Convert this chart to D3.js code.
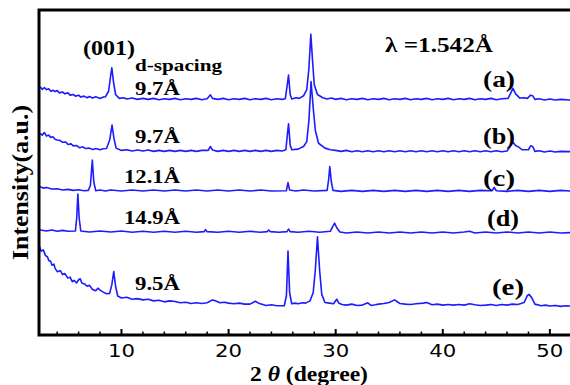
<!DOCTYPE html>
<html>
<head>
<meta charset="utf-8">
<script src="https://cdn.jsdelivr.net/npm/d3@7"></script>
<style>
  body { margin: 0; background: #fff; }
  svg { display: block; }
  .lbl { font-family: "Liberation Serif", "Times New Roman", serif; font-weight: bold; fill: #000; }
  .tick-lbl { font-family: "DejaVu Sans", sans-serif; font-size: 17px; fill: #000; }
</style>
</head>
<body>
<div id="chart"></div>
<script>
// x ticks (2 theta, degree)
const majorTicks = [10, 20, 30, 40, 50];
const minorTicks = [4, 6, 8, 12, 14, 16, 18, 22, 24, 26, 28, 32, 34, 36, 38, 42, 44, 46, 48, 52];

// XRD patterns: [2theta, intensity (a.u., offset stacked)]
const traceA = [[2.4,76.4],[2.6,75.6],[2.8,76.1],[3.0,75.5],[3.2,75.8],[3.4,75.0],[3.6,75.3],[3.8,74.9],[4.0,75.2],[4.2,74.5],[4.5,74.8],[4.7,74.2],[5.0,74.5],[5.2,73.8],[5.5,74.0],[5.7,73.5],[6.0,73.8],[6.2,73.2],[6.5,73.5],[6.8,73.0],[7.0,73.4],[7.3,72.9],[7.6,73.3],[8.0,72.8],[8.3,73.2],[8.5,73.3],[8.8,75],[9.0,80],[9.1,82.2],[9.25,78],[9.45,74],[9.8,72.8],[10.2,73.0],[10.5,72.6],[11.0,72.9],[11.5,72.5],[12,72.8],[12.5,72.5],[13,72.8],[13.5,72.4],[14,72.7],[14.5,72.5],[15,72.8],[15.5,72.4],[16,72.7],[16.5,72.5],[17,72.8],[17.5,72.4],[18.0,72.7],[18.3,73.9],[18.5,72.8],[19,72.5],[19.5,72.8],[20,72.4],[20.5,72.7],[21,72.5],[21.5,72.8],[22,72.4],[22.5,72.7],[23,72.5],[23.5,72.8],[24,72.4],[24.5,72.7],[25,72.5],[25.3,72.7],[25.48,77],[25.6,80],[25.75,74],[25.9,72.6],[26.3,73.0],[26.6,72.8],[27.0,73.6],[27.3,75.5],[27.5,82],[27.68,92.5],[27.85,84],[28.0,77],[28.3,74],[28.8,73],[29.2,72.6],[29.6,72.9],[30,72.5],[30.5,72.8],[31,72.4],[31.5,72.7],[32,72.5],[32.5,72.8],[33,72.4],[33.5,72.7],[34,72.5],[34.5,72.8],[35,72.4],[35.5,72.7],[36,72.5],[36.5,72.8],[37,72.4],[37.5,72.7],[38,72.5],[38.5,72.8],[39,72.4],[39.5,72.7],[40,72.5],[40.5,72.8],[41,72.4],[41.5,72.7],[42,72.5],[42.5,72.8],[43,72.4],[43.5,72.7],[44,72.5],[44.5,72.8],[45,72.4],[45.5,72.7],[46.1,72.8],[46.35,74.5],[46.55,75.9],[46.8,74.2],[47.2,72.9],[47.6,73.0],[47.9,72.8],[48.2,73.8],[48.4,73.6],[48.6,72.5],[49,72.7],[49.5,72.3],[50,72.6],[50.5,72.3],[51,72.5],[52,72.3]];

const traceB = [[2.4,62],[2.6,61.5],[2.8,62.3],[3.0,61.2],[3.2,61.5],[3.4,60.8],[3.6,61.0],[3.8,60.2],[4.0,60.0],[4.3,59.8],[4.5,59.3],[4.8,59.4],[5.0,58.6],[5.3,58.8],[5.5,58.2],[5.8,58.3],[6.1,57.6],[6.4,57.9],[6.6,57.4],[7.0,57.5],[7.3,57.1],[7.6,57.4],[8.0,57.0],[8.3,57.3],[8.6,57.4],[8.9,60],[9.12,64.6],[9.3,60.5],[9.5,57.5],[10,56.8],[10.5,57.0],[11,56.6],[11.5,56.9],[12,56.6],[12.5,56.9],[13,56.5],[13.5,56.8],[14,56.5],[14.5,56.8],[15,56.5],[15.5,56.8],[16,56.5],[16.5,56.8],[17,56.5],[17.5,56.8],[18.1,56.8],[18.3,58],[18.5,56.9],[19,56.5],[19.5,56.8],[20,56.5],[20.5,56.8],[21,56.5],[21.5,56.8],[22,56.5],[22.5,56.8],[23,56.5],[23.5,56.8],[24,56.5],[24.5,56.8],[25,56.6],[25.35,57],[25.5,62],[25.6,65],[25.75,58.5],[25.9,57],[26.5,57.2],[27.0,58],[27.3,59.5],[27.5,66],[27.7,78],[27.9,70],[28.1,63],[28.4,59],[29,57.5],[29.5,57.0],[30,56.8],[30.5,56.5],[31,56.8],[31.5,56.4],[32,56.7],[32.5,56.4],[33,56.7],[33.5,56.4],[34,56.7],[34.5,56.4],[35,56.7],[35.5,56.4],[36,56.7],[36.5,56.4],[37,56.7],[37.5,56.4],[38,56.7],[38.5,56.4],[39,56.7],[39.5,56.4],[40,56.7],[40.5,56.4],[41,56.7],[41.5,56.4],[42,56.7],[42.5,56.4],[43,56.7],[43.5,56.4],[44,56.7],[44.5,56.4],[45,56.7],[45.5,56.4],[46.0,56.6],[46.3,58],[46.5,59.5],[46.8,58.3],[47.1,57.8],[47.4,57],[48.0,57],[48.2,58.2],[48.4,58],[48.6,56.5],[49,56.7],[49.5,56.3],[50,56.6],[50.5,56.3],[51,56.5],[52,56.4]];

const traceC = [[2.4,45.6],[2.7,45.2],[3,45.4],[3.5,44.9],[4,45.0],[4.5,44.6],[5,44.8],[5.5,44.5],[6,44.7],[6.5,44.4],[6.9,44.5],[7.1,46],[7.28,53.8],[7.42,47],[7.6,44.4],[8,44.6],[8.5,44.3],[9,44.6],[10,44.3],[11,44.6],[12,44.3],[13,44.6],[14,44.3],[15,44.6],[16,44.3],[17,44.6],[18,44.3],[19,44.6],[20,44.3],[21,44.6],[22,44.3],[23,44.6],[24,44.3],[25.4,44.4],[25.55,46.9],[25.7,44.6],[26.3,44.3],[27,44.6],[28,44.3],[29.2,44.5],[29.35,48],[29.45,51.8],[29.6,47],[29.75,44.5],[30.5,44.2],[31.5,44.5],[32.5,44.2],[33.5,44.5],[34.5,44.2],[35.5,44.5],[36.5,44.2],[37.5,44.5],[38.5,44.2],[39.5,44.5],[40.5,44.2],[41.5,44.5],[42.5,44.2],[43.5,44.5],[44.6,44.4],[44.8,45.4],[45.0,44.4],[46,44.2],[47,44.5],[48,44.2],[49,44.5],[50,44.2],[51,44.5],[52,44.3]];

const traceD = [[2.4,32.3],[3,32.0],[3.5,32.3],[4,31.9],[4.5,32.2],[5,31.9],[5.7,32],[5.82,36],[5.93,43.4],[6.05,36],[6.2,32],[7,31.7],[8,32.0],[9,31.7],[10,32.0],[11,31.6],[12,31.9],[13,31.6],[14,31.9],[15,31.6],[16,31.9],[17,31.6],[17.7,31.8],[17.85,32.4],[18.0,31.8],[19,31.6],[20,31.9],[21,31.6],[22,31.9],[23,31.6],[23.6,31.8],[23.75,32.3],[23.9,31.8],[24.7,31.6],[25.45,31.8],[25.6,32.6],[25.75,31.8],[26.5,31.6],[27.5,31.9],[28.5,31.6],[29.5,31.9],[29.75,33.5],[29.9,34.4],[30.1,33],[30.4,31.7],[31,31.4],[32,31.7],[33,31.4],[34,31.7],[35,31.4],[36,31.7],[37,31.4],[38,31.7],[39,31.4],[40,31.7],[41,31.4],[42,31.7],[42.5,31.9],[43,31.4],[44,31.7],[45,31.4],[46,31.7],[47,31.4],[48,31.7],[49,31.4],[50,31.7],[51,31.4],[52,31.5]];

const traceE = [[2.35,27.2],[2.5,25.8],[2.7,26.2],[2.9,24.5],[3.1,24.0],[3.2,23],[3.4,22.6],[3.5,21.5],[3.7,21.8],[3.8,20.5],[4.0,19.5],[4.3,19.8],[4.5,18.6],[4.7,18.9],[5.0,17.5],[5.2,17.8],[5.4,16.4],[5.6,16.8],[5.8,16],[6.0,17],[6.15,17.3],[6.3,16],[6.6,15.6],[6.8,15],[7.0,15.3],[7.3,14],[7.6,13.6],[7.8,14.4],[8.0,13.8],[8.3,13.2],[8.6,12.7],[8.9,12.8],[9.1,15.5],[9.28,19.5],[9.45,15],[9.65,12],[10,11.4],[10.5,11.6],[11,11],[11.5,11.2],[12,10.8],[12.5,11.0],[13,10.5],[13.5,10.7],[14,10.2],[14.5,10.5],[15,10.3],[15.5,9.9],[16,10.1],[16.5,9.7],[17,9.9],[17.5,9.7],[18,9.9],[18.5,10.8],[18.7,10.6],[19.2,9.9],[19.6,10.1],[20,9.8],[20.5,9.6],[21,9.8],[21.5,9.5],[22,9.5],[22.5,10.4],[22.8,9.8],[23.2,9.4],[23.5,9.1],[24,9.3],[24.5,9.0],[25.2,9.0],[25.4,12],[25.55,25.8],[25.7,13],[25.9,9.6],[26.2,9.8],[26.5,9.6],[26.9,9.9],[27.2,9.8],[27.6,10.5],[27.9,13],[28.1,20],[28.3,30.2],[28.5,20],[28.7,12.5],[29,10],[29.4,9.8],[29.8,9.6],[30.1,11],[30.3,9.8],[30.6,9.4],[31,9.2],[31.5,9.5],[32,9.1],[32.5,9.2],[33.0,9.9],[33.3,9.1],[33.7,9.3],[34,9.5],[34.5,9.7],[35.0,10.0],[35.5,10.8],[36,9.7],[36.5,9.5],[37,9.4],[37.5,9.6],[38.2,9.8],[38.5,10.0],[39,9.3],[39.5,9.5],[40,9.2],[40.5,9.4],[41,9.2],[41.5,9.4],[42,9.2],[42.5,9.6],[43,9.3],[43.5,9.1],[44,9.2],[44.5,9.4],[45,9.1],[45.5,9.4],[46,9.2],[46.5,9.5],[47.0,9.4],[47.6,10],[47.9,12.2],[48.05,12.5],[48.3,11.5],[48.6,9.5],[49.2,9.0],[49.6,9.2],[50,8.9],[50.5,9.1],[51,8.8],[51.5,9.0],[52,8.9]];

const traces = [traceA, traceB, traceC, traceD, traceE];
const traceNames = ['(a)', '(b)', '(c)', '(d)', '(e)'];
const dSpacings = ['9.7Å', '9.7Å', '12.1Å', '14.9Å', '9.5Å'];

const width = 570, height = 385;
const x = d3.scaleLinear().domain([2.3, 52]).range([39, 571.3]);
const y = d3.scaleLinear().domain([0, 100]).range([335, 10]);

const svg = d3.select('#chart').append('svg')
  .attr('width', width)
  .attr('height', height);

// curves
const line = d3.line().x(d => x(d[0])).y(d => y(d[1]));
svg.append('g')
  .selectAll('path')
  .data(traces)
  .enter()
  .append('path')
  .attr('d', line)
  .attr('fill', 'none')
  .attr('stroke', '#1c1cff')
  .attr('stroke-width', 1.6)
  .attr('stroke-linejoin', 'round');

// frame: left, top, bottom
svg.append('path')
  .attr('d', `M${width + 2},10 H39 V335 H${width + 2}`)
  .attr('fill', 'none')
  .attr('stroke', '#000')
  .attr('stroke-width', 3);

// inward ticks on bottom axis
svg.append('g').selectAll('line.major')
  .data(majorTicks).enter().append('line')
  .attr('x1', d => x(d)).attr('x2', d => x(d))
  .attr('y1', 335).attr('y2', 329)
  .attr('stroke', '#000').attr('stroke-width', 2);
svg.append('g').selectAll('line.minor')
  .data(minorTicks).enter().append('line')
  .attr('x1', d => x(d)).attr('x2', d => x(d))
  .attr('y1', 335).attr('y2', 331.5)
  .attr('stroke', '#000').attr('stroke-width', 1.5);

svg.append('g').selectAll('text')
  .data(majorTicks).enter().append('text')
  .attr('class', 'tick-lbl')
  .attr('x', d => x(d) - 13.5)
  .attr('y', 357)
  .attr('textLength', 27)
  .attr('lengthAdjust', 'spacingAndGlyphs')
  .text(d => d);

// axis titles
svg.append('text')
  .attr('class', 'lbl')
  .attr('transform', 'translate(28,182.5) rotate(-90)')
  .attr('text-anchor', 'middle')
  .attr('font-size', 24)
  .attr('textLength', 155)
  .attr('lengthAdjust', 'spacingAndGlyphs')
  .text('Intensity(a.u.)');

const xt = svg.append('text')
  .attr('class', 'lbl')
  .attr('x', 250)
  .attr('y', 381)
  .attr('font-size', 21)
  .attr('textLength', 118)
  .attr('lengthAdjust', 'spacingAndGlyphs');
xt.append('tspan').text('2 ');
xt.append('tspan').attr('font-style', 'italic').text('θ');
xt.append('tspan').text(' (degree)');

// annotations
const addText = (txt, px, py, size, len) => svg.append('text')
  .attr('class', 'lbl')
  .attr('x', px).attr('y', py)
  .attr('font-size', size)
  .attr('textLength', len)
  .attr('lengthAdjust', 'spacingAndGlyphs')
  .text(txt);

addText('(001)', 83, 55, 22, 52);
addText('d-spacing', 135, 70.5, 17, 87);
addText('λ =1.542Å', 385, 52, 20, 108);

const dPos = [[135, 95], [135, 143], [124, 183], [124, 224], [135, 290]];
dSpacings.forEach((t, i) => addText(t, dPos[i][0], dPos[i][1], 18, 180 - dPos[i][0]));

const nPos = [[483, 87], [483, 144], [483, 186], [487, 226], [492, 295]];
traceNames.forEach((t, i) => addText(t, nPos[i][0], nPos[i][1], 24, 32));
</script>
</body>
</html>
